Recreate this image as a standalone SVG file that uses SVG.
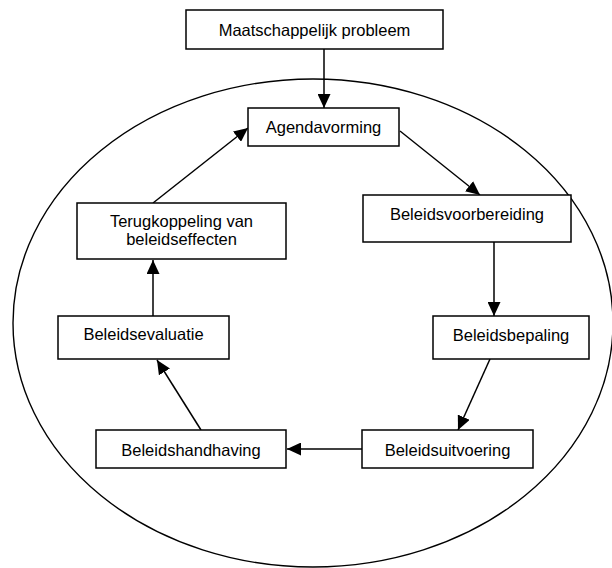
<svg xmlns="http://www.w3.org/2000/svg" width="612" height="568" viewBox="0 0 612 568">
<style>
.box{fill:#fff;stroke:#000;stroke-width:1.5}
.lbl{font-family:"Liberation Sans",Arial,sans-serif;font-size:16.5px;fill:#000;text-anchor:middle}
.con{stroke:#000;stroke-width:1.5;fill:none;marker-end:url(#arr)}
</style>
<defs>
<marker id="arr" markerUnits="userSpaceOnUse" viewBox="0 0 14 13" markerWidth="14" markerHeight="13" refX="14" refY="6.5" orient="auto">
<path d="M0,0 L14,6.5 L0,13 z" fill="#000"/>
</marker>
</defs>
<ellipse id="cycle" cx="313" cy="323" rx="300" ry="244" fill="none" stroke="#000" stroke-width="1.4"/>
<g id="connectors">
<line class="con" x1="324" y1="49" x2="324" y2="108"/>
<line class="con" x1="400" y1="131" x2="480" y2="195"/>
<line class="con" x1="494" y1="242" x2="494" y2="316"/>
<line class="con" x1="490" y1="359" x2="458" y2="430"/>
<line class="con" x1="362" y1="449" x2="287" y2="449"/>
<line class="con" x1="201" y1="430" x2="157" y2="360"/>
<line class="con" x1="153" y1="316" x2="153" y2="260"/>
<line class="con" x1="153" y1="203" x2="248" y2="128"/>
</g>
<g id="maatschappelijk">
<rect class="box" x="186" y="10" width="257" height="39"/>
<text class="lbl" x="314.5" y="36">Maatschappelijk probleem</text>
</g>
<g id="agendavorming">
<rect class="box" x="248" y="108" width="151" height="38"/>
<text class="lbl" x="323.5" y="133">Agendavorming</text>
</g>
<g id="beleidsvoorbereiding">
<rect class="box" x="363" y="195" width="208" height="47"/>
<text class="lbl" x="467" y="220">Beleidsvoorbereiding</text>
</g>
<g id="beleidsbepaling">
<rect class="box" x="433" y="316" width="156" height="43"/>
<text class="lbl" x="511" y="341">Beleidsbepaling</text>
</g>
<g id="beleidsuitvoering">
<rect class="box" x="362" y="430" width="171" height="38"/>
<text class="lbl" x="447.5" y="455.5">Beleidsuitvoering</text>
</g>
<g id="beleidshandhaving">
<rect class="box" x="96" y="430" width="190" height="38"/>
<text class="lbl" x="191" y="455.5">Beleidshandhaving</text>
</g>
<g id="beleidsevaluatie">
<rect class="box" x="58" y="316" width="171" height="43"/>
<text class="lbl" x="143.5" y="339.5">Beleidsevaluatie</text>
</g>
<g id="terugkoppeling">
<rect class="box" x="77" y="203" width="209" height="56"/>
<text class="lbl" x="181.5" y="226.5">Terugkoppeling van</text>
<text class="lbl" x="181.5" y="245">beleidseffecten</text>
</g>
</svg>
